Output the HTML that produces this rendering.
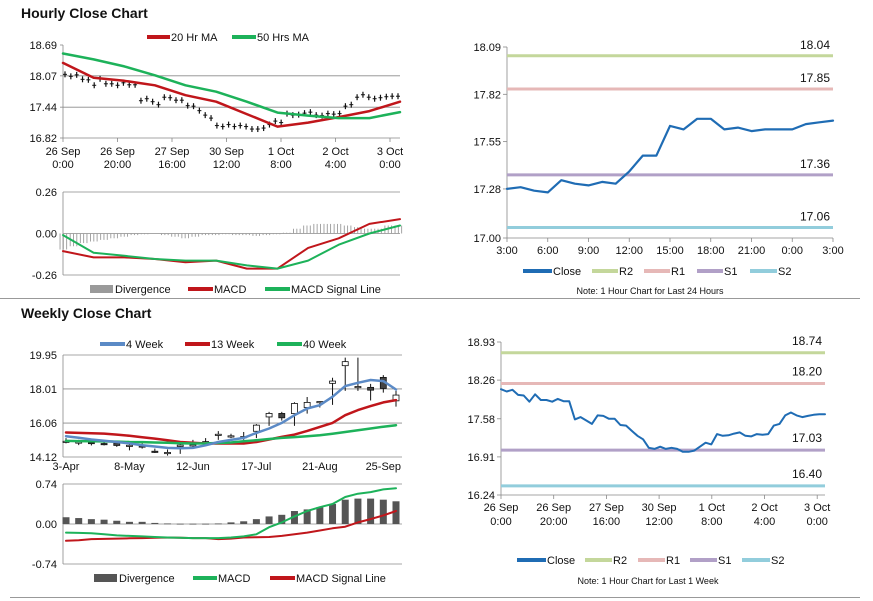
<!DOCTYPE html>
<html><head><meta charset="utf-8">
<style>
html,body{margin:0;padding:0;background:#fff;}
svg{display:block;font-family:"Liberation Sans",Arial,sans-serif;}
</style></head>
<body>
<svg id="c" width="873" height="601" viewBox="0 0 873 601" xmlns="http://www.w3.org/2000/svg"></svg>
<script>
// ---------- DATA ----------
const closeSeries = [18.10,18.06,18.09,18.00,17.99,17.88,18.01,17.91,17.91,17.88,17.93,17.89,17.89,17.57,17.61,17.55,17.49,17.64,17.63,17.58,17.58,17.47,17.46,17.37,17.28,17.22,17.07,17.05,17.09,17.05,17.07,17.05,17.00,17.00,17.02,17.09,17.16,17.13,17.31,17.28,17.29,17.32,17.34,17.28,17.27,17.31,17.30,17.31,17.46,17.49,17.64,17.69,17.64,17.61,17.63,17.65,17.66,17.66];
const ma20 = [18.33,18.03,17.97,17.88,17.68,17.55,17.30,17.05,17.13,17.24,17.36,17.55];
const ma50 = [18.52,18.40,18.26,18.08,17.88,17.75,17.55,17.33,17.27,17.22,17.22,17.34];
const hourlyTicks = ["18.69","18.07","17.44","16.82"];
const hourlyXLabels = [["26 Sep","0:00"],["26 Sep","20:00"],["27 Sep","16:00"],["30 Sep","12:00"],["1 Oct","8:00"],["2 Oct","4:00"],["3 Oct","0:00"]];
const hMacd = [-0.11,-0.15,-0.15,-0.16,-0.18,-0.17,-0.22,-0.22,-0.09,-0.03,0.06,0.09];
const hSignal = [-0.01,-0.12,-0.14,-0.16,-0.17,-0.17,-0.20,-0.22,-0.17,-0.07,0.00,0.05];
const hDiv = [-0.10,-0.08,-0.06,-0.05,-0.04,-0.03,-0.02,-0.01,-0.005,0,-0.01,-0.02,-0.03,-0.02,-0.01,-0.01,-0.005,-0.01,-0.01,-0.015,-0.01,-0.005,0.005,0.03,0.05,0.06,0.06,0.06,0.05,0.04,0.03,0.03,0.05,0.05];
const hMacdTicks = ["0.26","0.00","-0.26"];

const dayClose = [17.28,17.29,17.27,17.26,17.33,17.31,17.30,17.32,17.31,17.38,17.47,17.47,17.64,17.62,17.68,17.68,17.62,17.63,17.61,17.62,17.62,17.62,17.65,17.66,17.67];
const dayXLabels = ["3:00","6:00","9:00","12:00","15:00","18:00","21:00","0:00","3:00"];
const dayTicks = ["18.09","17.82","17.55","17.28","17.00"];
const dayLevels = [18.04,17.85,17.36,17.06];

const wkOpen  = [15.02,14.98,14.95,14.89,14.92,14.79,14.75,14.45,14.35,14.72,14.78,14.98,15.38,15.30,15.25,15.59,16.41,16.61,16.60,16.95,17.25,18.33,19.34,18.13,18.10,18.67,17.33];
const wkClose = [15.02,14.98,14.90,14.86,14.78,14.79,14.72,14.41,14.38,14.80,14.82,15.00,15.42,15.33,15.29,15.94,16.61,16.36,17.18,17.24,17.29,18.46,19.57,18.15,17.94,18.04,17.66];
const wkHigh  = [15.20,15.10,15.00,15.00,15.00,15.00,14.90,14.60,14.55,14.95,15.10,15.20,15.60,15.45,15.55,16.00,16.70,16.70,17.25,17.55,17.30,18.65,19.80,19.80,18.30,18.80,17.90];
const wkLow   = [14.90,14.80,14.78,14.78,14.70,14.50,14.60,14.35,14.20,14.30,14.70,14.90,15.10,15.20,15.10,15.20,15.90,16.20,15.90,16.60,16.95,17.10,17.90,17.90,17.35,17.80,17.00];
const wk4  = [15.31,15.22,15.12,15.05,14.98,14.90,14.79,14.72,14.64,14.62,14.64,14.79,14.98,15.10,15.21,15.50,15.75,16.07,16.51,16.89,17.08,17.56,18.17,18.36,18.52,18.46,17.98];
const wk13 = [15.52,15.50,15.48,15.46,15.40,15.33,15.25,15.17,15.08,14.98,14.93,14.89,14.89,14.89,14.89,14.98,15.12,15.27,15.40,15.61,15.84,16.07,16.51,16.80,17.03,17.24,17.37];
const wk40 = [15.04,15.03,15.02,15.01,15.00,14.98,14.97,14.95,14.93,14.91,14.89,14.90,14.92,14.95,15.02,15.08,15.15,15.21,15.26,15.31,15.36,15.45,15.55,15.65,15.75,15.85,15.94];
const wkTicks = ["19.95","18.01","16.06","14.12"];
const wkXLabels = ["3-Apr","8-May","12-Jun","17-Jul","21-Aug","25-Sep"];
const wDiv = [0.125,0.11,0.09,0.08,0.06,0.04,0.04,0.02,0.01,0.005,0.005,0.005,0.01,0.03,0.05,0.09,0.14,0.17,0.24,0.27,0.31,0.37,0.45,0.47,0.47,0.45,0.42];
const wMacd = [-0.16,-0.165,-0.17,-0.19,-0.21,-0.22,-0.23,-0.24,-0.25,-0.255,-0.26,-0.26,-0.26,-0.25,-0.23,-0.19,-0.06,0.03,0.14,0.24,0.31,0.37,0.50,0.56,0.59,0.64,0.66];
const wSignal = [-0.31,-0.30,-0.28,-0.275,-0.27,-0.265,-0.26,-0.255,-0.25,-0.255,-0.26,-0.26,-0.28,-0.27,-0.25,-0.245,-0.24,-0.22,-0.19,-0.16,-0.12,-0.08,-0.05,0.03,0.09,0.16,0.24];
const wMacdTicks = ["0.74","0.00","-0.74"];

const weekXLabels = [["26 Sep","0:00"],["26 Sep","20:00"],["27 Sep","16:00"],["30 Sep","12:00"],["1 Oct","8:00"],["2 Oct","4:00"],["3 Oct","0:00"]];
const weekTicks = ["18.93","18.26","17.58","16.91","16.24"];
const weekLevels = [18.74,18.20,17.03,16.40];

// ---------- HELPERS ----------
const svg = document.getElementById('c');
const NS = 'http://www.w3.org/2000/svg';
const RED='#C0161B', GREEN='#1DB25A', BLUE='#5B8AC6', CLOSE='#1F6CB4';
const LVL=['#C4D79B','#E6B8B7','#B1A0C7','#92CDDC'];
function mk(tag, attrs, parent){ const e=document.createElementNS(NS,tag); for(const k in attrs) e.setAttribute(k,attrs[k]); (parent||svg).appendChild(e); return e; }
function line(x1,y1,x2,y2,stroke,w,name){ const e=mk('line',{x1,y1,x2,y2,stroke,'stroke-width':w});
  
  
  return e; }
function text(x,y,s,size,anchor,name,weight){ const e=mk('text',{x,y,'font-size':size,'text-anchor':anchor||'start',fill:'#111','font-weight':weight||'normal'}); e.textContent=s;
  
  
  return e; }
function poly(pts,stroke,w,name){ const e=mk('polyline',{points:pts.map(p=>p[0].toFixed(1)+','+p[1].toFixed(1)).join(' '),fill:'none',stroke,'stroke-width':w,'stroke-linejoin':'round','stroke-linecap':'round'});
  
  
  return e; }
function rect(x,y,w,h,fill,stroke,name){ const e=mk('rect',{x,y,width:w,height:h,fill,stroke:stroke||'none','stroke-width':0.8});
  
  
  return e; }
function scale(d0,d1,r0,r1){ return v=>r0+(v-d0)/(d1-d0)*(r1-r0); }
function legendLine(x1,x2,y,color,label,name){ line(x1,y,x2,y,color,4,name+'-swatch'); text(x2+1,y+4,label,11,'start',name+'-label'); }
function legendBox(x1,x2,y,color,label,name){ rect(x1,y-4,x2-x1,8,color,null,name+'-swatch'); text(x2+2,y+4,label,11,'start',name+'-label'); }

// ---------- TITLES / SEPARATORS ----------
text(21,18,'Hourly Close Chart',14,'start','hourly-title','bold');
text(21,318,'Weekly Close Chart',14,'start','weekly-title','bold');
line(0,298.5,860,298.5,'#999',1,'section-separator');
line(10,597.5,860,597.5,'#999',1,'bottom-separator');

// ---------- HOURLY LEFT PRICE ----------
(function(){
  const L=63,R=400,T=45,B=138;
  const y=scale(16.82,18.69,B,T);
  hourlyTicks.forEach((t,i)=>{ const yy=y(parseFloat(t));
    if(i>0 && i<hourlyTicks.length-1) line(L,yy,R,yy,'#8a8a8a',0.8,'hourly-gridline');
    line(L-3,yy,L,yy,'#888',0.8,'hourly-y-tick');
    text(L-6,yy+4,t,11,'end','hourly-y-label'); });
  line(L,T,L,B,'#888',0.8,'hourly-y-axis');
  line(L,B,R,B,'#888',0.8,'hourly-x-axis');
  hourlyXLabels.forEach((l,i)=>{ const xx=L+i*54.5;
    line(xx,B,xx,B+4,'#888',0.8,'hourly-x-tick');
    text(xx,B+17,l[0],11,'middle','hourly-x-label'); text(xx,B+30,l[1],11,'middle','hourly-x-label'); });
  const xc=scale(0,closeSeries.length-1,L+2,R-2);
  closeSeries.forEach((v,i)=>{ line(xc(i),y(v+0.06),xc(i),y(v-0.06),'#111',1.2,'hourly-price-bar'); line(xc(i)-2,y(v),xc(i)+2,y(v),'#111',1,'hourly-price-close'); });
  const xm=n=>scale(0,n-1,L,R);
  const x20=xm(ma20.length); poly(ma20.map((v,i)=>[x20(i),y(v)]),RED,2.5,'ma20-line');
  const x50=xm(ma50.length); poly(ma50.map((v,i)=>[x50(i),y(v)]),GREEN,2.5,'ma50-line');
  legendLine(147,170,37,RED,'20 Hr MA','legend-20hr-ma');
  legendLine(232,256,37,GREEN,'50 Hrs MA','legend-50hrs-ma');
})();

// ---------- HOURLY MACD ----------
(function(){
  const L=63,R=400,T=192,B=275;
  const y=scale(-0.26,0.26,B,T);
  hMacdTicks.forEach((t,i)=>{ const yy=y(parseFloat(t));
    line(L,yy,R,yy,'#8a8a8a',0.8,'hourly-macd-gridline');
    text(L-6,yy+4,t,11,'end','hourly-macd-y-label'); });
  line(L,T,L,B,'#888',0.8,'hourly-macd-y-axis');
  const xd=scale(0,hDiv.length-1,L+1,R-1);
  const bw=(R-L)/hDiv.length;
  hDiv.forEach((v,i)=>{ for(let k=0;k<3;k++){ const xx=xd(i)-bw/2+k*bw/3+1; line(xx,y(0),xx,y(v),'#9a9a9a',0.9,'hourly-divergence-bar'); } });
  const xm=scale(0,hMacd.length-1,L,R);
  poly(hMacd.map((v,i)=>[xm(i),y(v)]),RED,2,'hourly-macd-line');
  const xs=scale(0,hSignal.length-1,L,R);
  poly(hSignal.map((v,i)=>[xs(i),y(v)]),GREEN,2,'hourly-signal-line');
  legendBox(90,113,289,'#9a9a9a','Divergence','legend-hourly-divergence');
  legendLine(188,213,289,RED,'MACD','legend-hourly-macd');
  legendLine(265,290,289,GREEN,'MACD Signal Line','legend-hourly-signal');
})();

// ---------- RIGHT TOP (24h) ----------
(function(){
  const L=507,R=833,T=47,B=238;
  const y=scale(17.00,18.09,B,T);
  dayTicks.forEach(t=>{ const yy=y(parseFloat(t)); line(L-4,yy,L,yy,'#888',0.8,'day-y-tick'); text(L-6,yy+4,t,11,'end','day-y-label'); });
  line(L,T,L,B,'#888',0.8,'day-y-axis');
  line(L,B,R,B,'#888',0.8,'day-x-axis');
  const x=scale(0,dayClose.length-1,L,R);
  dayXLabels.forEach((l,i)=>{ const xx=x(i*3); line(xx,B,xx,B+4,'#888',0.8,'day-x-tick'); text(xx,B+16,l,11,'middle','day-x-label'); });
  dayLevels.forEach((v,i)=>{ line(L,y(v),R,y(v),LVL[i],3,'day-level-'+['r2','r1','s1','s2'][i]); text(R-3,y(v)-7,v.toFixed(2),12,'end','day-level-value'); });
  poly(dayClose.map((v,i)=>[x(i),y(v)]),CLOSE,2.2,'day-close-line');
  legendLine(523,552,271,CLOSE,'Close','legend-day-close');
  legendLine(592,618,271,LVL[0],'R2','legend-day-r2');
  legendLine(644,670,271,LVL[1],'R1','legend-day-r1');
  legendLine(697,723,271,LVL[2],'S1','legend-day-s1');
  legendLine(750,777,271,LVL[3],'S2','legend-day-s2');
  text(650,294,'Note: 1 Hour Chart for Last 24 Hours',9,'middle','day-note');
})();

// ---------- WEEKLY CANDLES ----------
(function(){
  const L=63,R=402,T=355,B=457;
  const y=scale(14.12,19.95,B,T);
  wkTicks.forEach((t,i)=>{ const yy=y(parseFloat(t));
    line(L,yy,R,yy,'#8a8a8a',0.8,'weekly-gridline');
    text(L-6,yy+4,t,11,'end','weekly-y-label'); });
  line(L,T,L,B,'#888',0.8,'weekly-y-axis');
  const x=scale(0,wkClose.length-1,66,396);
  wkXLabels.forEach((l,i)=>{ const xx=x(i*5); text(xx,B+13,l,11,'middle','weekly-x-label'); });
  wkClose.forEach((c,i)=>{ const o=wkOpen[i];
    line(x(i),y(wkHigh[i]),x(i),y(wkLow[i]),'#111',1,'weekly-candle-wick');
    const top=y(Math.max(o,c)), h=Math.max(1.2,Math.abs(y(o)-y(c)));
    rect(x(i)-3,top,6,h,c>=o?'#fff':'#444','#111','weekly-candle-body'); });
  poly(wk13.map((v,i)=>[x(i),y(v)]),RED,2.5,'wk13-line');
  poly(wk40.map((v,i)=>[x(i),y(v)]),GREEN,2.5,'wk40-line');
  poly(wk4.map((v,i)=>[x(i),y(v)]),BLUE,2.5,'wk4-line');
  legendLine(100,125,344,BLUE,'4 Week','legend-4-week');
  legendLine(185,210,344,RED,'13 Week','legend-13-week');
  legendLine(277,302,344,GREEN,'40 Week','legend-40-week');
})();

// ---------- WEEKLY MACD ----------
(function(){
  const L=63,R=402,T=484,B=564;
  const y=scale(-0.74,0.74,B,T);
  wMacdTicks.forEach(t=>{ const yy=y(parseFloat(t)); line(L,yy,R,yy,'#8a8a8a',0.8,'weekly-macd-gridline'); text(L-6,yy+4,t,11,'end','weekly-macd-y-label'); });
  line(L,T,L,B,'#888',0.8,'weekly-macd-y-axis');
  const x=scale(0,wDiv.length-1,66,396);
  wDiv.forEach((v,i)=>{ const a=y(Math.max(v,0)), b=y(Math.min(v,0)); rect(x(i)-3.5,a,7,Math.max(0.8,b-a),'#555',null,'weekly-divergence-bar'); });
  poly(wSignal.map((v,i)=>[x(i),y(v)]),RED,2,'weekly-signal-line');
  poly(wMacd.map((v,i)=>[x(i),y(v)]),GREEN,2,'weekly-macd-line');
  legendBox(94,117,578,'#555','Divergence','legend-weekly-divergence');
  legendLine(193,217,578,GREEN,'MACD','legend-weekly-macd');
  legendLine(270,295,578,RED,'MACD Signal Line','legend-weekly-signal');
})();

// ---------- RIGHT BOTTOM (1 week) ----------
(function(){
  const L=501,R=825,T=342,B=495;
  const y=scale(16.24,18.93,B,T);
  weekTicks.forEach(t=>{ const yy=y(parseFloat(t)); line(L-4,yy,L,yy,'#888',0.8,'week-y-tick'); text(L-6,yy+4,t,11,'end','week-y-label'); });
  line(L,T,L,B,'#888',0.8,'week-y-axis');
  line(L,B,R,B,'#888',0.8,'week-x-axis');
  weekXLabels.forEach((l,i)=>{ const xx=L+i*52.7; line(xx,B,xx,B+4,'#888',0.8,'week-x-tick'); text(xx,B+16,l[0],11,'middle','week-x-label'); text(xx,B+30,l[1],11,'middle','week-x-label'); });
  weekLevels.forEach((v,i)=>{ line(L,y(v),R,y(v),LVL[i],3,'week-level-'+['r2','r1','s1','s2'][i]); text(R-3,y(v)-8,v.toFixed(2),12,'end','week-level-value'); });
  const x=scale(0,closeSeries.length-1,L,R);
  poly(closeSeries.map((v,i)=>[x(i),y(v)]),CLOSE,2,'week-close-line');
  legendLine(517,546,560,CLOSE,'Close','legend-week-close');
  legendLine(585,612,560,LVL[0],'R2','legend-week-r2');
  legendLine(638,665,560,LVL[1],'R1','legend-week-r1');
  legendLine(690,717,560,LVL[2],'S1','legend-week-s1');
  legendLine(742,770,560,LVL[3],'S2','legend-week-s2');
  text(648,584,'Note: 1 Hour Chart for Last 1 Week',9,'middle','week-note');
})();
</script>
</body></html>
